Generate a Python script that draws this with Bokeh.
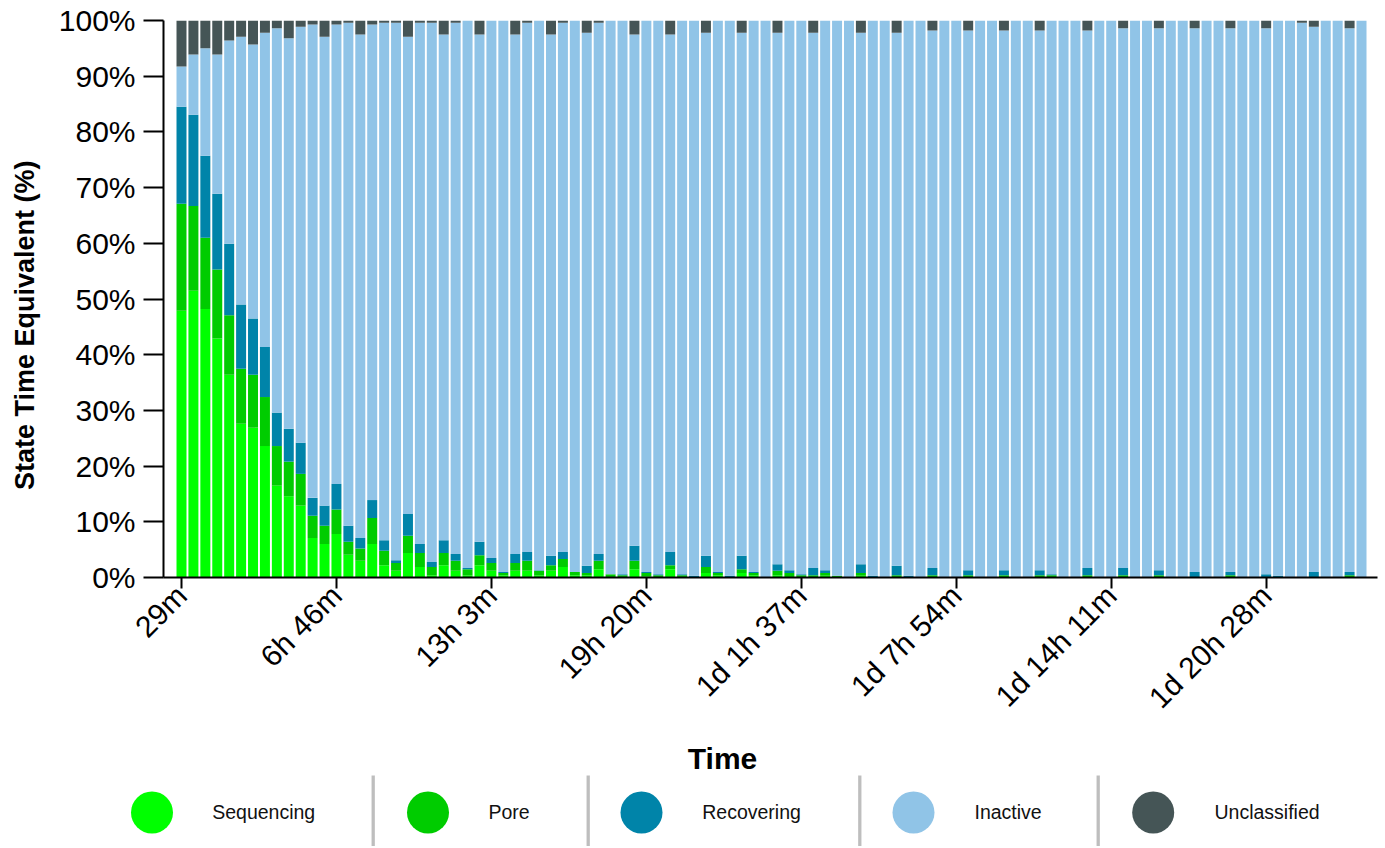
import math
from bokeh.plotting import figure
from bokeh.models import ColumnDataSource, Range1d, FixedTicker
from bokeh.embed import file_html
from bokeh.resources import INLINE
from bokeh.core.properties import value

# ---------------- data ----------------
series_names = ["Sequencing", "Pore", "Recovering", "Inactive", "Unclassified"]
colors = ["#00ff00", "#00cc00", "#0084a9", "#90c4e7", "#455556"]

# bar times in minutes (one bar every 29 minutes)
bar_minutes = [29 * (i + 1) for i in range(100)]

sequencing = [
    47.9, 51.5, 48.2, 42.9, 36.4, 27.6, 26.9, 23.6, 16.5, 14.6,
    12.9, 7.1, 6.0, 7.8, 4.1, 3.0, 6.0, 2.2, 1.2, 4.4,
    1.9, 0.4, 2.2, 1.2, 0.4, 2.2, 1.2, 0.4, 1.2, 1.2,
    0.4, 1.2, 1.9, 0.4, 0.4, 1.5, 0.1, 0, 1.5, 0.2,
    0, 1.5, 0, 0, 0.8, 0.4, 0, 0.8, 0.4, 0,
    0.4, 0, 0, 0, 0.3, 0, 0, 0.3, 0, 0,
    0, 0, 0, 0, 0, 0, 0, 0, 0, 0,
    0, 0, 0, 0, 0, 0, 0, 0, 0, 0,
    0, 0, 0, 0, 0, 0, 0, 0, 0, 0,
    0, 0, 0, 0, 0, 0, 0, 0, 0, 0,
]
pore = [
    19.2, 15.2, 12.8, 12.4, 10.7, 9.9, 9.5, 8.8, 7.1, 6.2,
    5.7, 4.0, 3.3, 4.4, 2.3, 2.2, 4.7, 2.6, 1.4, 3.1,
    2.5, 1.5, 2.2, 1.8, 1.1, 1.8, 1.4, 0.4, 1.4, 1.8,
    0.8, 1.0, 1.4, 0.6, 0.4, 1.5, 0.5, 0.4, 1.5, 0.6,
    0.4, 0.7, 0.4, 0, 1.1, 0.4, 0, 0.7, 0.4, 0,
    0.8, 0.8, 0.4, 0.4, 0.5, 0.3, 0, 0.5, 0, 0,
    0.4, 0, 0, 0.4, 0, 0, 0.4, 0, 0, 0.4,
    0, 0, 0.4, 0.4, 0, 0, 0.4, 0, 0, 0.4,
    0, 0, 0.4, 0, 0, 0, 0, 0, 0.4, 0,
    0, 0, 0, 0, 0, 0, 0, 0, 0.4, 0,
]
recovering = [
    17.4, 16.4, 14.7, 13.6, 12.8, 11.5, 10.1, 9.0, 6.0, 5.9,
    5.6, 3.2, 3.6, 4.6, 2.9, 1.9, 3.2, 1.9, 0.5, 3.9,
    1.6, 0.9, 2.3, 1.2, 0.2, 2.4, 0.9, 0.2, 1.6, 1.6,
    0.1, 1.7, 1.3, 0, 1.3, 1.2, 0, 0.2, 2.7, 0.2,
    0.2, 2.4, 0.2, 0.3, 2.0, 0.2, 0.3, 2.4, 0.2, 0,
    1.2, 0.5, 0.2, 1.3, 0.5, 0, 0, 1.6, 0.3, 0,
    1.7, 0.3, 0, 1.3, 0, 0, 0.9, 0, 0, 0.9,
    0, 0, 0.9, 0.2, 0, 0, 1.3, 0, 0, 1.3,
    0, 0, 0.9, 0, 0, 1.0, 0, 0, 0.6, 0,
    0, 0.6, 0.3, 0, 0, 1.0, 0, 0, 0.6, 0,
]
inactive = [
    7.25, 10.8, 19.3, 25.0, 36.5, 48.1, 49.2, 56.4, 69.0, 70.1,
    74.7, 85.0, 84.2, 82.5, 90.3, 90.4, 85.4, 92.9, 96.5, 85.7,
    93.6, 96.8, 90.8, 95.4, 98.3, 91.1, 96.5, 99.0, 93.3, 95.0,
    98.7, 93.6, 95.0, 99.0, 95.7, 95.4, 99.4, 99.4, 91.8, 99.0,
    99.4, 92.9, 99.4, 99.7, 93.9, 99.0, 99.7, 93.9, 99.0, 100,
    95.4, 98.7, 99.4, 96.1, 98.7, 99.7, 100, 95.4, 99.7, 100,
    95.7, 99.7, 100, 96.5, 100, 100, 96.9, 100, 100, 96.9,
    100, 100, 96.9, 99.4, 100, 100, 96.5, 100, 100, 96.9,
    100, 100, 97.3, 100, 100, 97.6, 100, 100, 97.6, 100,
    100, 98.0, 99.7, 100, 99.6, 97.9, 100, 100, 97.6, 100,
]
unclassified = [
    8.25, 6.1, 5.0, 6.1, 3.6, 2.9, 4.3, 2.2, 1.4, 3.2,
    1.1, 0.7, 2.9, 0.7, 0.4, 2.5, 0.7, 0.4, 0.4, 2.9,
    0.4, 0.4, 2.5, 0.4, 0, 2.5, 0, 0, 2.5, 0.4,
    0, 2.5, 0.4, 0, 2.2, 0.4, 0, 0, 2.5, 0,
    0, 2.5, 0, 0, 2.2, 0, 0, 2.2, 0, 0,
    2.2, 0, 0, 2.2, 0, 0, 0, 2.2, 0, 0,
    2.2, 0, 0, 1.8, 0, 0, 1.8, 0, 0, 1.8,
    0, 0, 1.8, 0, 0, 0, 1.8, 0, 0, 1.4,
    0, 0, 1.4, 0, 0, 1.4, 0, 0, 1.4, 0,
    0, 1.4, 0, 0, 0.4, 1.1, 0, 0, 1.4, 0,
]

x_tick_labels = ["29m", "6h 46m", "13h 3m", "19h 20m",
                 "1d 1h 37m", "1d 7h 54m", "1d 14h 11m", "1d 20h 28m"]
x_tick_values = bar_minutes[::13]
y_tick_values = [0, 10, 20, 30, 40, 50, 60, 70, 80, 90, 100]
y_tick_labels = [f"{v}%" for v in y_tick_values]
y_title = "State Time Equivalent (%)"
x_title = "Time"

# ---------------- main chart ----------------
FONT = "Liberation Sans"
source = ColumnDataSource(dict(
    t=bar_minutes,
    Sequencing=sequencing, Pore=pore, Recovering=recovering,
    Inactive=inactive, Unclassified=unclassified,
))

p = figure(width=1385, height=736,
           x_range=Range1d(-14.8, 2938.9), y_range=Range1d(0, 100),
           output_backend="svg", toolbar_location=None,
           min_border_left=163, min_border_right=8,
           min_border_top=20, min_border_bottom=159)
p.vbar_stack(series_names, x="t", width=24.3, fill_color=colors,
             line_color=None, source=source)

p.xgrid.grid_line_color = None
p.ygrid.grid_line_color = None
p.outline_line_color = None
p.background_fill_color = "white"

xa = p.xaxis[0]
xa.ticker = FixedTicker(ticks=x_tick_values)
xa.major_label_overrides = {v: l for v, l in zip(x_tick_values, x_tick_labels)}
xa.major_label_orientation = math.pi / 4
xa.major_label_text_font = FONT
xa.major_label_text_font_size = "30px"
xa.major_label_text_color = "#000000"
xa.major_label_standoff = 2
xa.axis_line_width = 2
xa.axis_line_color = "#000000"
xa.major_tick_line_width = 2
xa.major_tick_line_color = "#000000"
xa.major_tick_out = 11
xa.major_tick_in = 0
xa.minor_tick_line_color = None

ya = p.yaxis[0]
ya.ticker = FixedTicker(ticks=y_tick_values)
ya.major_label_overrides = {v: l for v, l in zip(y_tick_values, y_tick_labels)}
ya.major_label_text_font = FONT
ya.major_label_text_font_size = "30px"
ya.major_label_text_color = "#000000"
ya.major_label_standoff = 8
ya.axis_line_width = 2
ya.axis_line_color = "#000000"
ya.major_tick_line_width = 2
ya.major_tick_line_color = "#000000"
ya.major_tick_out = 20
ya.major_tick_in = 0
ya.minor_tick_line_color = None
# trailing no-break spaces shift the centred title down to where the reference has it
ya.axis_label = y_title + "\u00a0" * 7
ya.axis_label_text_font = FONT
ya.axis_label_text_font_style = "bold"
ya.axis_label_text_font_size = "27px"
ya.axis_label_text_color = "#000000"
ya.axis_label_standoff = 16

# ---------------- legend / x title strip (separate root) ----------------
leg = figure(width=1385, height=110,
             x_range=Range1d(0, 1385), y_range=Range1d(846, 736),
             x_axis_type=None, y_axis_type=None,
             output_backend="svg", toolbar_location=None, min_border=0)
leg.outline_line_color = None
leg.background_fill_color = "white"

legend_circle_x = [151.5, 427.5, 641.0, 913.0, 1152.7]
legend_text_x = [211.7, 488.0, 701.7, 974.0, 1214.0]
separator_x = [372.7, 587.7, 859.3, 1097.7]

leg.segment(x0=separator_x, y0=775, x1=separator_x, y1=846,
            line_width=3.3, line_color="#bebebe")
leg.scatter(x=legend_circle_x, y=[812] * 5, size=42, marker="circle",
            fill_color=colors, line_color=None)
leg.text(x=legend_text_x, y=[811] * 5, text=series_names,
         text_font=value(FONT), text_font_size=value("19.5px"),
         text_align="left", text_baseline="alphabetic", text_color="#111111")
leg.text(x=[722], y=[758], text=[x_title],
         text_font=value(FONT), text_font_size=value("30px"),
         text_font_style="bold", text_align="center",
         text_baseline="alphabetic", text_color="#000000")

open("out.html", "w").write(file_html([p, leg], INLINE))
